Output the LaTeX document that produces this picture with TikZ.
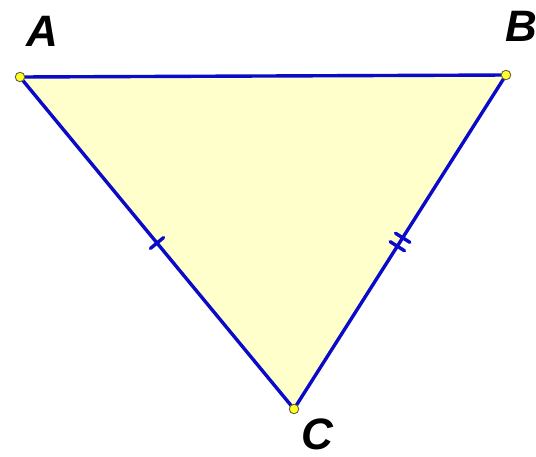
\documentclass[tikz,border=0pt]{standalone}
\usepackage{fontspec}
\setmainfont{Liberation Sans}
\usetikzlibrary{decorations.markings}
\definecolor{fillyel}{RGB}{255,255,204}
\definecolor{edgeblue}{RGB}{10,10,200}
\definecolor{ptyel}{RGB}{255,255,40}
\tikzset{
  ptnode/.style={circle, fill=ptyel, draw=black!70!yellow, line width=0.9pt, inner sep=0pt, minimum size=9.5pt},
  lbl/.style={font=\fontsize{44}{44}\selectfont\bfseries\itshape, text=black, inner sep=0pt},
  edge/.style={draw=edgeblue, line width=3.4pt, line cap=round},
  onetick/.style={postaction={decorate, decoration={markings, mark=at position 0.5 with {\draw[edgeblue, line width=3.4pt, line cap=round] (0,-8.5pt) -- (0,8.5pt);}}}},
  twotick/.style={postaction={decorate, decoration={markings, mark=at position 0.5 with {\draw[edgeblue, line width=3.4pt, line cap=round] (-5pt,-8.5pt) -- (-5pt,8.5pt) (5pt,-8.5pt) -- (5pt,8.5pt);}}}}
}
\begin{document}
\begin{tikzpicture}[x=1pt,y=1pt]
\useasboundingbox[fill=white] (0,0) rectangle (536,-456);
\coordinate (a) at (20,-77);
\coordinate (b) at (506,-75);
\coordinate (c) at (294,-409);
\fill[fillyel] (a) -- (b) -- (c) -- cycle;
\draw[edge] (a) -- (b);
\draw[edge, onetick] (a) -- (c);
\draw[edge, twotick] (c) -- (b);
\node[ptnode] (A) at (a) {};
\node[ptnode] (B) at (b) {};
\node[ptnode] (C) at (c) {};
\node[lbl] (LA) at (42,-31) {A};
\node[lbl] (LB) at (521,-26) {B};
\node[lbl] (LC) at (317,-434) {C};
\end{tikzpicture}
\end{document}
